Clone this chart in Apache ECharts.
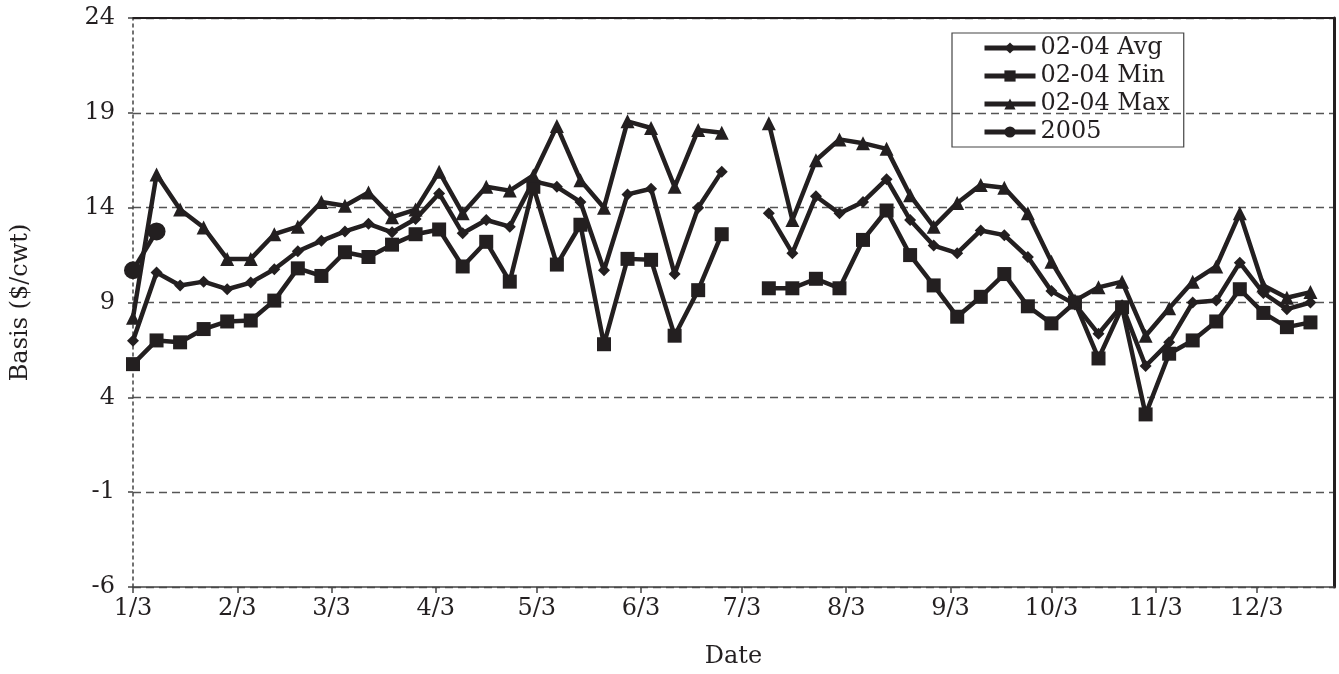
<!DOCTYPE html>
<html lang="en">
<head>
	<meta charset="UTF-8">
	<title>Basis chart</title>
	<style>
		html, body { margin: 0; padding: 0; background: #fff; }
		#main { width: 1339px; height: 674px; }
	</style>
</head>
<body>
	<div id="main"></div>
	<script src="https://cdn.jsdelivr.net/npm/echarts@6/dist/echarts.min.js"></script>
	<script>
		// weekly dates (2005), the 7/4 week has no data
		var weekDates = ['1/3', '1/10', '1/17', '1/24', '1/31', '2/7', '2/14', '2/21', '2/28',
			'3/7', '3/14', '3/21', '3/28', '4/4', '4/11', '4/18', '4/25', '5/2', '5/9', '5/16',
			'5/23', '5/30', '6/6', '6/13', '6/20', '6/27', '7/4', '7/11', '7/18', '7/25', '8/1',
			'8/8', '8/15', '8/22', '8/29', '9/5', '9/12', '9/19', '9/26', '10/3', '10/10', '10/17',
			'10/24', '10/31', '11/7', '11/14', '11/21', '11/28', '12/5', '12/12', '12/19'];

		var avgValues = [6.98, 10.58, 9.9, 10.1, 9.7, 10.05, 10.75, 11.7, 12.25, 12.75, 13.15, 12.7, 13.4,
			14.75, 12.65, 13.35, 13.0, 15.4, 15.1, 14.3, 10.7, 14.7, 15.0, 10.5, 14.0, 15.9, null,
			13.7, 11.6, 14.6, 13.7, 14.3, 15.5, 13.35, 12.0, 11.6, 12.8, 12.55, 11.4, 9.6, 8.9,
			7.35, 8.85, 5.65, 6.9, 9.0, 9.1, 11.1, 9.5, 8.65, 9.0];

		var minValues = [5.75, 7.0, 6.9, 7.6, 8.0, 8.05, 9.1, 10.8, 10.4, 11.65, 11.4, 12.05, 12.6,
			12.85, 10.9, 12.2, 10.1, 15.1, 11.0, 13.1, 6.8, 11.3, 11.25, 7.25, 9.65, 12.6, null,
			9.75, 9.75, 10.25, 9.75, 12.3, 13.85, 11.5, 9.9, 8.25, 9.3, 10.5, 8.8, 7.9, 9.0,
			6.05, 8.75, 3.1, 6.3, 7.0, 8.0, 9.7, 8.45, 7.7, 7.95];

		var maxValues = [8.2, 15.75, 13.9, 12.95, 11.3, 11.3, 12.6, 13.0, 14.3, 14.1, 14.8, 13.5, 13.9,
			15.9, 13.7, 15.1, 14.9, 15.7, 18.3, 15.45, 14.0, 18.55, 18.2, 15.1, 18.1, 17.95, null,
			18.45, 13.35, 16.5, 17.6, 17.4, 17.1, 14.65, 13.0, 14.25, 15.2, 15.05, 13.7, 11.15, 9.1,
			9.8, 10.1, 7.25, 8.7, 10.1, 10.9, 13.7, 9.9, 9.25, 9.55];

		var values2005 = [10.7, 12.75];

		var tickLabels = ['1/3', '2/3', '3/3', '4/3', '5/3', '6/3', '7/3', '8/3', '9/3', '10/3', '11/3', '12/3'];

		var FONT = 'DejaVu Serif';
		var INK = '#231f20';

		// days after 1/3/2005
		function dayOf(md) {
			var p = md.split('/');
			return (Date.UTC(2005, +p[0] - 1, +p[1]) - Date.UTC(2005, 0, 3)) / 86400000;
		}

		function pairs(vals) {
			return vals.map(function(v, i) {
				return [dayOf(weekDates[i]), v];
			});
		}

		var tickDays = tickLabels.map(dayOf);

		function lineSeries(name, vals, symbol, size) {
			return {
				name: name,
				type: 'line',
				data: pairs(vals),
				symbol: symbol,
				symbolSize: size,
				connectNulls: false,
				lineStyle: { color: INK, width: 4.5 },
				itemStyle: { color: INK },
				emphasis: { disabled: true },
				animation: false
			};
		}

		var myChart = echarts.init(document.getElementById('main'));

		var option = {
			backgroundColor: '#fff',
			textStyle: { fontFamily: FONT, color: INK },
			grid: {
				left: 133,
				right: 5,
				top: 18,
				bottom: 84
			},
			legend: {
				orient: 'vertical',
				left: 952,
				top: 33,
				padding: [3, 14, 3, 30],
				borderColor: '#444',
				borderWidth: 1.2,
				itemWidth: 51,
				itemHeight: 14,
				itemGap: 4,
				lineStyle: { width: 5 },
				textStyle: { fontFamily: FONT, fontSize: 24, color: INK, lineHeight: 23 },
				data: ['02-04 Avg', '02-04 Min', '02-04 Max', '2005']
			},
			xAxis: [{
				type: 'value',
				min: 0,
				max: 357,
				name: 'Date',
				nameLocation: 'middle',
				nameGap: 58,
				nameTextStyle: { fontFamily: FONT, fontSize: 24, color: INK },
				axisLine: { show: true, onZero: false, lineStyle: { color: '#444', width: 1.5 } },
				axisTick: {
					show: true,
					length: 6,
					customValues: tickDays,
					lineStyle: { color: '#444', width: 1.5 }
				},
				axisLabel: {
					customValues: tickDays,
					margin: 10,
					fontFamily: FONT,
					fontSize: 24,
					color: INK,
					formatter: function(v) {
						var k = tickDays.indexOf(v);
						return k >= 0 ? tickLabels[k] : '';
					}
				},
				splitLine: { show: false }
			}, {
				type: 'value',
				position: 'top',
				min: 0,
				max: 357,
				axisLine: { show: true, onZero: false, lineStyle: { color: INK, width: 2 } },
				axisTick: { show: false },
				axisLabel: { show: false },
				splitLine: { show: false }
			}],
			yAxis: [{
				type: 'value',
				min: -6,
				max: 24,
				interval: 5,
				name: 'Basis ($/cwt)',
				nameLocation: 'middle',
				nameGap: 100,
				nameTextStyle: { fontFamily: FONT, fontSize: 24, color: INK },
				axisLine: { show: true, onZero: false, lineStyle: { color: '#444', width: 1.5, type: [3, 4] } },
				axisTick: { show: true, length: 5, lineStyle: { color: '#444', width: 1.5 } },
				axisLabel: { fontFamily: FONT, fontSize: 24, color: INK, margin: 18 },
				splitLine: {
					show: true,
					lineStyle: { color: '#555', width: 1.3, type: [8, 5] }
				}
			}, {
				type: 'value',
				position: 'right',
				min: -6,
				max: 24,
				interval: 5,
				axisLine: { show: true, onZero: false, lineStyle: { color: INK, width: 3 } },
				axisTick: { show: false },
				axisLabel: { show: false },
				splitLine: { show: false }
			}],
			series: [
				lineSeries('02-04 Avg', avgValues, 'diamond', 12),
				lineSeries('02-04 Min', minValues, 'rect', 14),
				lineSeries('02-04 Max', maxValues, 'triangle', 14),
				lineSeries('2005', values2005, 'circle', 18)
			]
		};

		myChart.setOption(option);
	</script>
</body>
</html>
